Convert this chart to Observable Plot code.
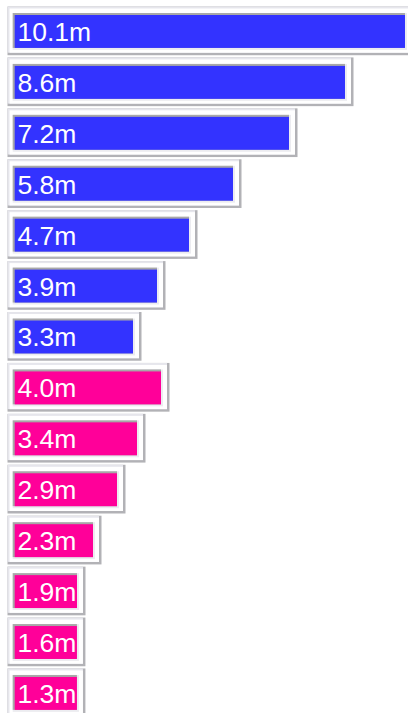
<!DOCTYPE html>
<html>
<head>
<meta charset="utf-8">
<script src="https://cdn.jsdelivr.net/npm/d3@7"></script>
<script src="https://cdn.jsdelivr.net/npm/@observablehq/plot@0.6"></script>
<style>
  html, body { margin: 0; padding: 0; background: #fff; overflow: hidden; }
  #chart svg { display: block; }
</style>
</head>
<body>
<div id="chart"></div>
<script>
const rows = ["r1","r2","r3","r4","r5","r6","r7","r8","r9","r10","r11","r12","r13","r14"];
const values = [10.1, 8.6, 7.2, 5.8, 4.7, 3.9, 3.3, 4.0, 3.4, 2.9, 2.3, 1.9, 1.6, 1.3];
const groups = ["Group A","Group A","Group A","Group A","Group A","Group A","Group A","Group B","Group B","Group B","Group B","Group B","Group B","Group B"];
const groupNames = ["Group A", "Group B"];
const groupColors = ["#3333ff", "#ff0099"];

const W = 408, H = 713;
const fontSize = 26.5;
const fontFamily = "Liberation Sans, Arial, sans-serif";
const xDomain = [0, 10.1];
const xRange = [3, 407];
const xs = d3.scaleLinear().domain(xDomain).range(xRange);

const ctx = document.createElement("canvas").getContext("2d");
ctx.font = `${fontSize}px ${fontFamily}`;

const data = rows.map((r, i) => {
  const label = values[i].toFixed(1) + "m";
  const tw = ctx.measureText(label).width;
  const minV = xs.invert(xs(0) + 10 + tw + 7);
  return {row: r, value: values[i], group: groups[i], label, shown: Math.max(values[i], minV)};
});

const band = {x1: () => 0, x2: "shown", y: "row"};

const chart = Plot.plot({
  width: W,
  height: H,
  margin: 0,
  style: {background: "#fff", overflow: "hidden", fontFamily},
  x: {domain: xDomain, range: xRange, axis: null},
  y: {domain: rows, range: [5.5, 5.5 + 14 * 50.92], padding: 0, round: false, axis: null},
  color: {type: "ordinal", domain: groupNames, range: groupColors},
  marks: [
    // outer bevelled box
    Plot.barX(data, {...band, fill: "#b2b2b6", insetLeft: 4.5, insetRight: -6.5, insetTop: 1, insetBottom: 1.2}),
    Plot.barX(data, {...band, fill: "#e6e6ec", insetLeft: 4.5, insetRight: -4, insetTop: 1, insetBottom: 3.7}),
    Plot.barX(data, {...band, fill: "#ffffff", insetLeft: 6.5, insetRight: -4, insetTop: 3, insetBottom: 3.7}),
    // inner inset bar
    Plot.barX(data, {...band, fill: "#ececf0", insetLeft: 9.7, insetRight: 0, insetTop: 7.5, insetBottom: 6.5}),
    Plot.barX(data, {...band, fill: "#a8a8a8", insetLeft: 9.7, insetRight: 2, insetTop: 7.5, insetBottom: 8.5}),
    Plot.barX(data, {...band, fill: "group", insetLeft: 11.7, insetRight: 2, insetTop: 9.5, insetBottom: 8.5}),
    Plot.text(data, {
      x: () => 0, y: "row", text: "label", dx: 14, dy: 1,
      textAnchor: "start", fill: "white", fontSize, fontFamily
    })
  ]
});
document.getElementById("chart").append(chart);
</script>
</body>
</html>
